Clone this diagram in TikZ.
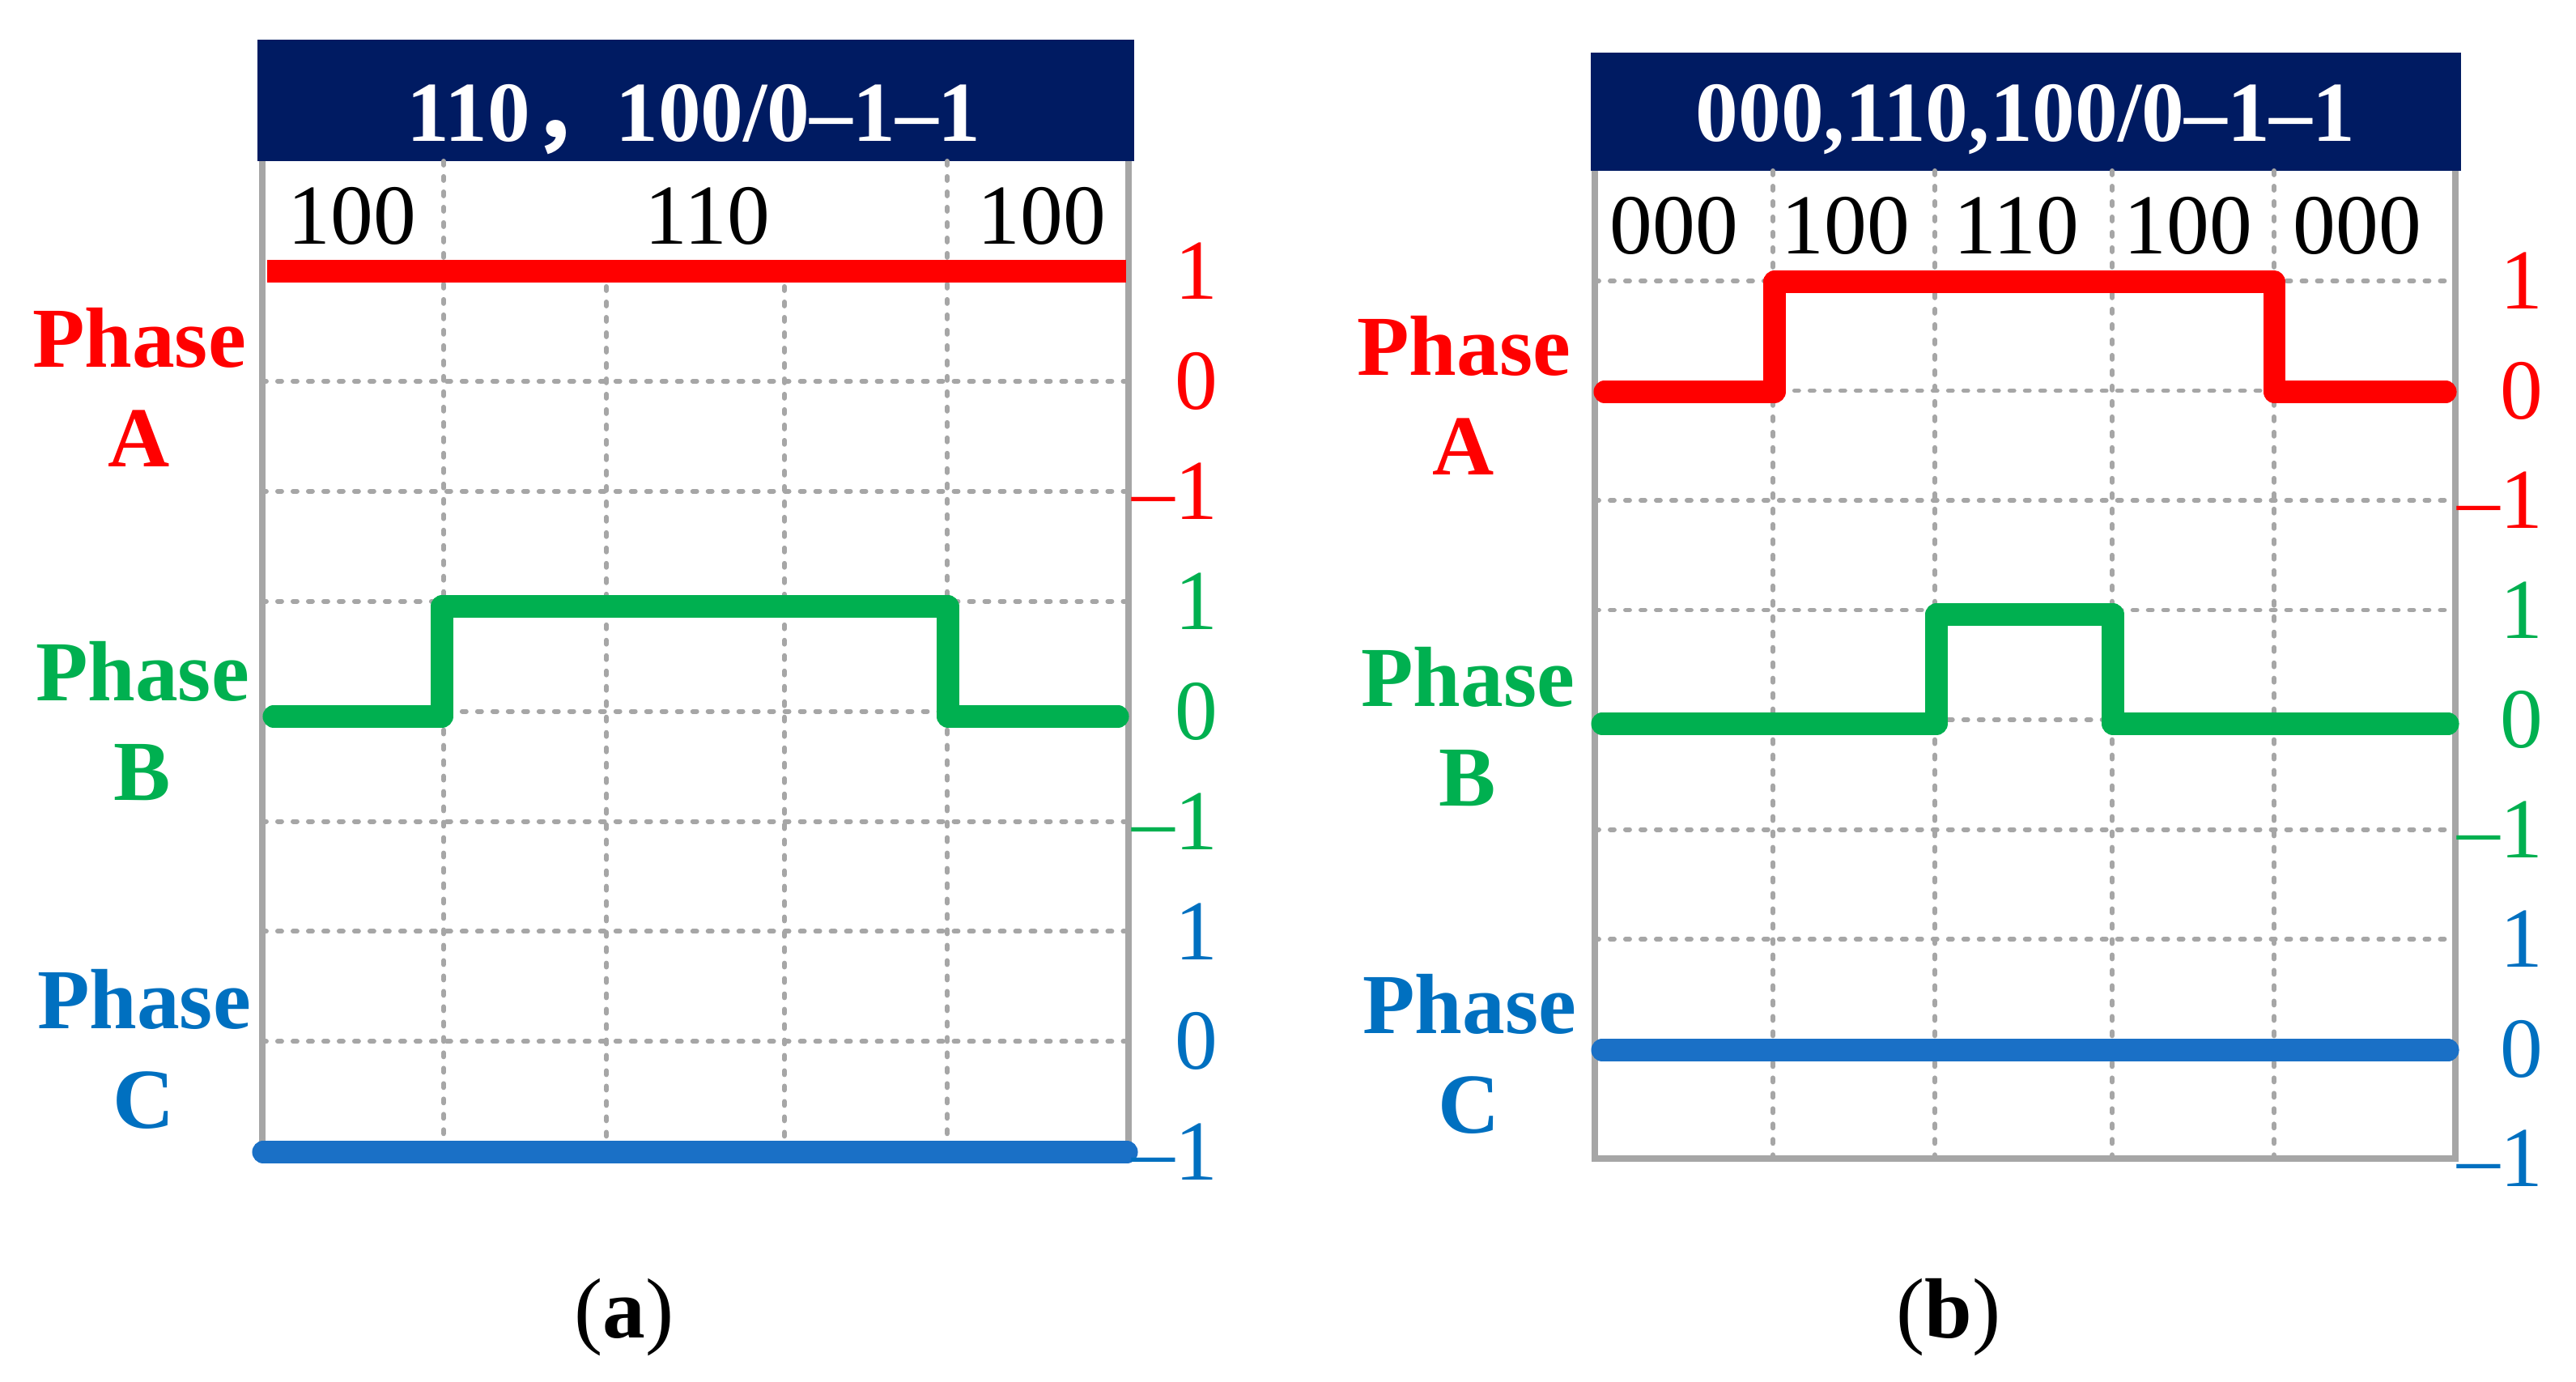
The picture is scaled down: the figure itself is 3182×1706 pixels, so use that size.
\documentclass[tikz,border=0pt]{standalone}
\usepackage{xcolor}
\usepackage{fontspec}
\setmainfont{Liberation Serif}
\newfontfamily\cjkfont{Noto Sans CJK SC}
\usepackage{tikz}
\usetikzlibrary{positioning}

\definecolor{phasered}{HTML}{FF0000}
\definecolor{phasegreen}{HTML}{00B050}
\definecolor{phaseblue}{HTML}{0070C0}
\definecolor{lineblue}{HTML}{1A70C6}
\definecolor{headnavy}{HTML}{001B62}
\definecolor{gridgray}{HTML}{A6A6A6}

\begin{document}
\begin{tikzpicture}[x=0.01cm, y=-0.01cm, font=\fontsize{30}{35}\selectfont]
            \tikzstyle{frame} = [draw=gridgray, line width=2.3pt]
            \tikzstyle{grid} = [draw=gridgray, line width=1.7pt, line cap=round, dash pattern=on 1.4pt off 4pt]
            \tikzstyle{signal} = [line width=7.7pt, line cap=round, line join=round]
            \tikzstyle{phase} = [align=center, inner sep=0pt, font=\fontsize{30}{35}\selectfont\bfseries]
            \tikzstyle{level} = [anchor=east, inner sep=0pt]
            \tikzstyle{code} = [anchor=base, inner sep=0pt]
            \tikzstyle{title} = [anchor=base, inner sep=0pt, text=white, font=\fontsize{30}{35}\selectfont\bfseries]

            \useasboundingbox (0,0) rectangle (3182,1706);

            % (a)
            \fill [headnavy] (318,49) rectangle (1401,199);
            \node [title] (TitleA) at (857,175) {110{\cjkfont ，}100/0–1–1};

            \foreach \k in {1,...,7}
                \draw [grid] (324,{335+135.9*\k}) -- (1394,{335+135.9*\k});
            \foreach \x in {548,1170}
                \draw [grid] (\x,199) -- (\x,1422);
            \foreach \x in {749,969}
                \draw [grid] (\x,335) -- (\x,1422);
            \draw [frame] (324,199) -- (324,1422);
            \draw [frame] (1394,199) -- (1394,1422);

            \node [code] (CodeA1) at (435,301) {100};
            \node [code] (CodeA2) at (874,301) {110};
            \node [code] (CodeA3) at (1287,301) {100};

            \draw [signal, phasered, line cap=butt] (330,335) -- (1391,335);
            \draw [signal, phasegreen] (338,885) -- (546,885) -- (546,749) -- (1171,749) -- (1171,885) -- (1381,885);
            \draw [signal, lineblue] (325,1423) -- (1392,1423);

            \node [phase, phasered] (PhaseAa) at (172,478) {Phase\\A};
            \node [phase, phasegreen] (PhaseBa) at (176,891) {Phase\\B};
            \node [phase, phaseblue] (PhaseCa) at (178,1296) {Phase\\C};

            \foreach \k/\v/\c in {0/1/phasered, 1/0/phasered, 2/–1/phasered,
                                  3/1/phasegreen, 4/0/phasegreen, 5/–1/phasegreen,
                                  6/1/phaseblue, 7/0/phaseblue, 8/–1/phaseblue}
                \node [level, text=\c] (LevelA\k) at (1505,{335+135.9*\k}) {\v};

            \node [code] (CapA) at (771,1652) {(\textbf{a})};

            % (b)
            \fill [headnavy] (1965,65) rectangle (3040,211);
            \node [title] (TitleB) at (2502,175) {000,110,100/0–1–1};

            \foreach \k in {0,...,7}
                \draw [grid] (1970,{347+135.5*\k}) -- (3033,{347+135.5*\k});
            \foreach \x in {2190,2390,2609,2809}
                \draw [grid] (\x,211) -- (\x,1431);
            \draw [frame] (1970,211) -- (1970,1431) -- (3033,1431) -- (3033,211);

            \foreach \i/\x/\t in {1/2068/000, 2/2280/100, 3/2491/110, 4/2703/100, 5/2912/000}
                \node [code] (CodeB\i) at (\x,313) {\t};

            \draw [signal, phasered] (1982,484) -- (2192,484) -- (2192,348) -- (2809,348) -- (2809,484) -- (3021,484);
            \draw [signal, phasegreen] (1979,894) -- (2392,894) -- (2392,759) -- (2610,759) -- (2610,894) -- (3024,894);
            \draw [signal, lineblue] (1979,1297) -- (3024,1297);

            \node [phase, phasered] (PhaseAb) at (1808,488) {Phase\\A};
            \node [phase, phasegreen] (PhaseBb) at (1813,898) {Phase\\B};
            \node [phase, phaseblue] (PhaseCb) at (1815,1302) {Phase\\C};

            \foreach \k/\v/\c in {0/1/phasered, 1/0/phasered, 2/–1/phasered,
                                  3/1/phasegreen, 4/0/phasegreen, 5/–1/phasegreen,
                                  6/1/phaseblue, 7/0/phaseblue, 8/–1/phaseblue}
                \node [level, text=\c] (LevelB\k) at (3142,{347+135.5*\k}) {\v};

            \node [code] (CapB) at (2407,1652) {(\textbf{b})};
        \end{tikzpicture}
\end{document}
